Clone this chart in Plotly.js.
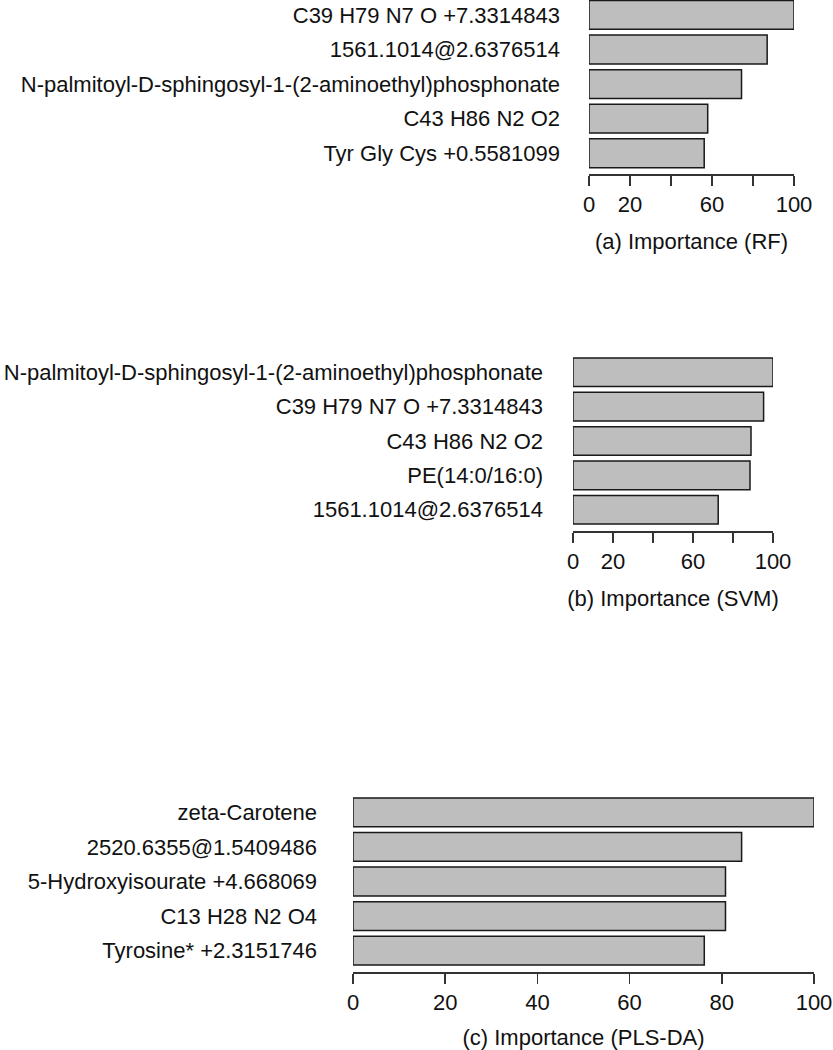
<!DOCTYPE html>
<html>
<head>
<meta charset="utf-8">
<script src="https://cdn.plot.ly/plotly-3.0.1.min.js"></script>
<style>
  html, body { margin: 0; padding: 0; background: #fff; }
  #chart { width: 833px; height: 1050px; }
</style>
</head>
<body>
<div id="chart"></div>
<script>
// top-to-bottom order, as in the figure
const rfNames = ['C39 H79 N7 O +7.3314843', '1561.1014@2.6376514',
    'N-palmitoyl-D-sphingosyl-1-(2-aminoethyl)phosphonate', 'C43 H86 N2 O2',
    'Tyr Gly Cys +0.5581099'];
const rfValues = [100, 86.9, 74.4, 57.9, 56.2];

const svmNames = ['N-palmitoyl-D-sphingosyl-1-(2-aminoethyl)phosphonate',
    'C39 H79 N7 O +7.3314843', 'C43 H86 N2 O2', 'PE(14:0/16:0)',
    '1561.1014@2.6376514'];
const svmValues = [100, 95.3, 89.0, 88.5, 72.6];

const plsNames = ['zeta-Carotene', '2520.6355@1.5409486',
    '5-Hydroxyisourate +4.668069', 'C13 H28 N2 O4', 'Tyrosine* +2.3151746'];
const plsValues = [100, 84.3, 80.8, 80.8, 76.2];

const titles = ['(a) Importance (RF)', '(b) Importance (SVM)', '(c) Importance (PLS-DA)'];
const tickVals = [0, 20, 40, 60, 80, 100];
const tickTextShort = ['0', '20', '', '60', '', '100'];
const tickTextFull = ['0', '20', '40', '60', '80', '100'];

const W = 833, H = 1050;
const FONT = 'Liberation Sans, Arial, Helvetica, sans-serif';
const FS = 22;

function bar(names, values, xa, ya) {
    return {
        type: 'bar',
        orientation: 'h',
        y: names.slice().reverse(),
        x: values.slice().reverse(),
        xaxis: xa,
        yaxis: ya,
        cliponaxis: false,
        marker: {color: '#bebebe', line: {color: '#1a1a1a', width: 1.5}},
        hoverinfo: 'x+y'
    };
}

// pixel boxes: [left, right, top, bottom]
function xAxis(box, yRef, title, tickText) {
    return {
        domain: [box[0] / W, box[1] / W],
        anchor: yRef,
        range: [0, 100],
        showgrid: false,
        zeroline: false,
        showline: true,
        linecolor: '#333',
        linewidth: 1.5,
        ticks: 'outside',
        ticklen: 10,
        tickwidth: 1.5,
        tickcolor: '#333',
        tickvals: tickVals,
        ticktext: tickText,
        ticklabelstandoff: 0,
        tickfont: {family: FONT, size: FS, color: '#111'},
        automargin: false,
        title: {text: title, standoff: 17, font: {family: FONT, size: FS, color: '#111'}}
    };
}

function yAxis(box, xRef, range, standoff) {
    return {
        domain: [1 - box[3] / H, 1 - box[2] / H],
        anchor: xRef,
        range: range,
        showgrid: false,
        zeroline: false,
        showline: false,
        ticks: '',
        ticklabelstandoff: standoff,
        tickfont: {family: FONT, size: FS, color: '#111'},
        automargin: false,
        fixedrange: true
    };
}

const boxA = [589, 794, 0, 174];
const boxB = [573, 773, 351, 531];
const boxC = [353, 814, 791, 972];

const data = [
    bar(rfNames, rfValues, 'x', 'y'),
    bar(svmNames, svmValues, 'x2', 'y2'),
    bar(plsNames, plsValues, 'x3', 'y3')
];

const layout = {
    width: W,
    height: H,
    margin: {l: 0, r: 0, t: 0, b: 0},
    paper_bgcolor: '#fff',
    plot_bgcolor: '#fff',
    showlegend: false,
    bargap: 0.1667,
    font: {family: FONT, size: FS, color: '#111'},
    xaxis: xAxis(boxA, 'y', titles[0], tickTextShort),
    yaxis: yAxis(boxA, 'x', [-0.6, 4.43], 28),
    xaxis2: xAxis(boxB, 'y2', titles[1], tickTextShort),
    yaxis2: yAxis(boxB, 'x2', [-0.62, 4.62], 29),
    xaxis3: xAxis(boxC, 'y3', titles[2], tickTextFull),
    yaxis3: yAxis(boxC, 'x3', [-0.62, 4.62], 35)
};

Plotly.newPlot('chart', data, layout, {displayModeBar: false, staticPlot: true});
</script>
</body>
</html>
